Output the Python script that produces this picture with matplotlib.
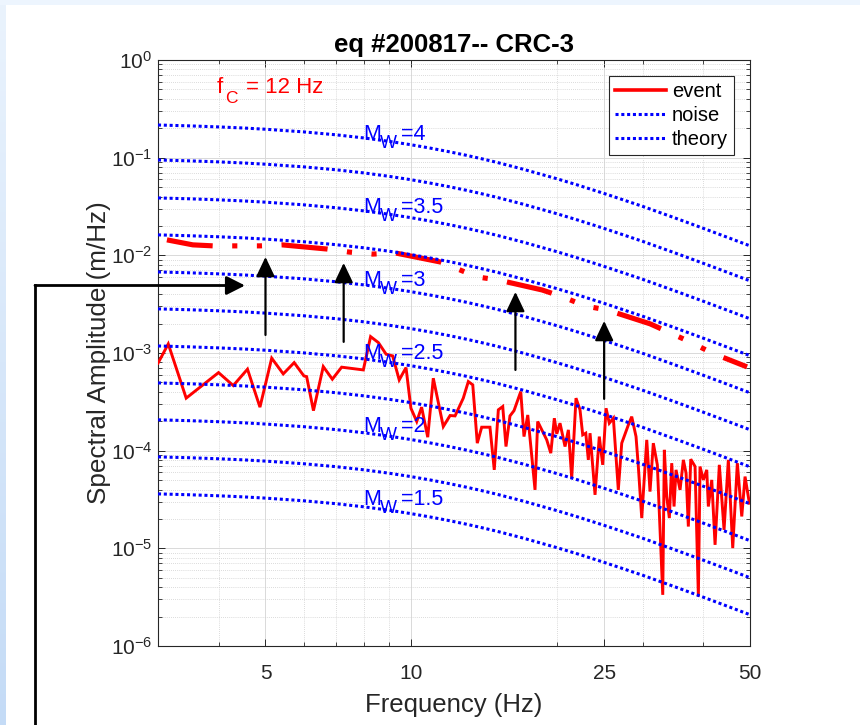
import numpy as np
import matplotlib
matplotlib.use("Agg")
import matplotlib.pyplot as plt
from matplotlib.lines import Line2D
from matplotlib.colors import LinearSegmentedColormap
from matplotlib.patches import FancyArrowPatch
from matplotlib.ticker import FixedLocator, NullFormatter, FixedFormatter, LogFormatterSciNotation

plt.rcParams['font.family'] = ['Liberation Sans', 'DejaVu Sans']
plt.rcParams['mathtext.fontset'] = 'custom'
plt.rcParams['mathtext.rm'] = 'Liberation Sans'
plt.rcParams['mathtext.it'] = 'Liberation Sans'
plt.rcParams['mathtext.sf'] = 'Liberation Sans'
plt.rcParams['mathtext.bf'] = 'Liberation Sans:bold'
plt.rcParams['mathtext.default'] = 'regular'
plt.rcParams['axes.unicode_minus'] = False

# ---------------- data ----------------
noise_freq = [3.0, 3.15, 3.43, 4.0, 4.29, 4.59, 4.87, 5.15, 5.44, 5.73, 6.0, 6.08, 6.28, 6.58, 6.87, 7.18,
              7.96, 8.24, 8.55, 8.87, 9.15, 9.44, 9.75, 9.98, 10.26, 10.5, 10.81, 11.1, 11.64, 12.02, 12.31,
              12.8, 13.11, 13.39, 13.68, 13.97, 14.53, 14.83, 15.12, 15.44, 15.68, 15.98, 16.29, 16.82, 17.08,
              17.39, 18.0, 18.23, 19.03, 19.40, 19.73, 19.96, 20.27, 20.76, 21.09, 21.43, 21.87, 22.29, 22.58,
              22.91, 23.19, 23.38, 23.94, 24.43, 24.83, 25.23, 25.62, 26.12, 26.74, 27.18, 28.05, 28.50, 29.09,
              29.41, 29.89, 30.61, 31.09, 31.58, 32.19, 33.03, 33.28, 33.66, 34.08, 34.47, 34.85, 35.18, 35.86,
              36.43, 36.90, 37.30, 37.73, 38.51, 39.12, 39.43, 40.06, 40.71, 41.02, 41.69, 42.35, 43.22, 44.20,
              45.11, 46.06, 47.08, 48.08, 48.84, 49.85]
noise_amp = [7.86e-4, 1.239e-3, 3.45e-4, 6.30e-4, 4.64e-4, 6.83e-4, 2.79e-4, 8.85e-4, 6.11e-4, 7.97e-4,
             5.83e-4, 5.73e-4, 2.57e-4, 7.26e-4, 5.39e-4, 7.16e-4, 6.71e-4, 1.472e-3, 1.278e-3, 9.72e-4,
             9.34e-4, 5.30e-4, 7.09e-4, 2.72e-4, 1.99e-4, 2.79e-4, 1.374e-4, 5.52e-4, 1.765e-4, 2.29e-4,
             2.27e-4, 3.45e-4, 5.10e-4, 4.72e-4, 1.194e-4, 1.739e-4, 1.739e-4, 6.36e-5, 2.62e-4, 2.83e-4,
             1.102e-4, 2.27e-4, 2.57e-4, 4.03e-4, 1.394e-4, 2.32e-4, 3.97e-5, 1.99e-4, 1.29e-4, 9.43e-5,
             2.15e-4, 1.486e-4, 1.912e-4, 1.102e-4, 1.633e-4, 5.23e-5, 3.45e-4, 2.62e-4, 1.451e-4, 1.51e-4,
             8.05e-5, 1.51e-4, 3.53e-5, 1.394e-4, 7.16e-5, 2.72e-4, 1.912e-4, 2.15e-4, 3.97e-5, 1.194e-4,
             1.837e-4, 2.23e-4, 1.394e-4, 6.88e-5, 2.04e-5, 1.29e-4, 3.81e-5, 1.194e-4, 7.16e-5, 3.34e-6,
             1.019e-4, 3.39e-5, 2.04e-5, 7.45e-5, 2.68e-5, 6.36e-5, 3.97e-5, 8.05e-5, 5.88e-5, 1.671e-5,
             8.18e-5, 6.88e-5, 3.21e-6, 6.88e-5, 5.02e-5, 6.36e-5, 2.68e-5, 5.02e-5, 1.086e-5, 7.16e-5,
             1.546e-5, 8.05e-5, 1.005e-5, 7.45e-5, 2.12e-5, 5.43e-5, 2.90e-5]

event_freq = [3.13, 3.54, 3.9, 4.33, 4.87, 5.41, 6.7, 7.44, 8.33, 9.25, 11.46, 12.31, 13.66, 15.1, 18.61,
              20.56, 22.83, 25.34, 31.09, 34.19, 37.96, 41.74, 49.3]
event_amp = [0.0144, 0.0128, 0.0125, 0.0125, 0.0125, 0.0128, 0.0116, 0.0108, 0.0103, 0.0106, 0.00856, 0.00743,
             0.00601, 0.0056, 0.00442, 0.00375, 0.00303, 0.00276, 0.00199, 0.00161, 0.00127, 0.001, 0.000721]

theory_mw = [4.0, 3.75, 3.5, 3.25, 3.0, 2.75, 2.5, 2.25, 2.0, 1.75, 1.5]
theory_plateau = [0.216, 0.0947, 0.0387, 0.0162, 0.00676, 0.00283, 0.00118, 0.000494, 0.000207, 8.64e-05, 3.61e-05]
theory_freq = [3, 3.5, 4, 4.5, 5, 6, 7, 8, 9, 10, 11, 12, 13, 14, 15, 17, 20, 22, 25, 28, 30, 35, 40, 45, 50]
theory_shape = [1.0, 0.979, 0.956, 0.932, 0.905, 0.85, 0.793, 0.736, 0.68, 0.627, 0.577, 0.531, 0.489, 0.450,
                0.415, 0.353, 0.281, 0.2436, 0.199, 0.1649, 0.147, 0.1118, 0.0877, 0.0705, 0.0579]

mw_labels = ['4', '3.5', '3', '2.5', '2', '1.5']
corner_freq_label = '12 Hz'

arrow_freq = [5.0, 7.25, 16.4, 25.0]
arrow_from = [0.00153, 0.0013, 0.000671, 0.000339]
arrow_to = [0.00963, 0.00836, 0.00422, 0.00213]

x_ticks = [5, 10, 25, 50]
x_minor = [3, 4, 6, 7, 8, 9, 20, 30, 40]
y_ticks = [1e-6, 1e-5, 1e-4, 1e-3, 1e-2, 1e-1, 1e0]

# ---------------- figure ----------------
W, H = 860, 725
fig = plt.figure(figsize=(W / 100, H / 100), dpi=100)
fig.patch.set_facecolor('white')

# decorative light-blue window edges
gax = fig.add_axes([0, 0, 6 / W, 1])
grad = np.linspace(0, 1, 256).reshape(-1, 1)
cm = LinearSegmentedColormap.from_list('edge', ['#eaf3fd', '#c4dbf6'])
gax.imshow(grad, aspect='auto', cmap=cm, extent=[0, 1, 0, 1], origin='upper')
gax.set_axis_off()
tax = fig.add_axes([0, 1 - 5 / H, 1, 5 / H])
tax.set_facecolor('#edf5fe')
tax.set_xticks([]); tax.set_yticks([])
for s in tax.spines.values():
    s.set_visible(False)

ax = fig.add_axes([158 / W, 1 - 646 / H, 592 / W, 586 / H])

event_ls = (0, (9, 3.8, 1.0, 3.8, 1.0, 3.8))
ax.loglog(event_freq, event_amp, color='red', lw=3.7, ls=event_ls, dash_capstyle='butt', zorder=3)
ax.loglog(noise_freq, noise_amp, color='red', lw=2.1, zorder=3, solid_joinstyle='miter')

dot_ls = (0, (1, 0.9))
for plateau in theory_plateau:
    vals = [plateau * s for s in theory_shape]
    ax.loglog(theory_freq, vals, color='blue', lw=2.2, ls=dot_ls, dash_capstyle='butt', zorder=4)

ax.set_xlim(3, 50)
ax.set_ylim(1e-6, 1)

ax.xaxis.set_major_locator(FixedLocator(x_ticks))
ax.xaxis.set_major_formatter(FixedFormatter([str(t) for t in x_ticks]))
ax.xaxis.set_minor_locator(FixedLocator(x_minor))
ax.xaxis.set_minor_formatter(NullFormatter())
y_minor = [m * t for t in y_ticks[:-1] for m in range(2, 10)]
ax.yaxis.set_major_locator(FixedLocator(y_ticks))
ax.yaxis.set_major_formatter(LogFormatterSciNotation())
ax.yaxis.set_minor_locator(FixedLocator(y_minor))
ax.yaxis.set_minor_formatter(NullFormatter())

ax.grid(True, which='major', color='#d9d9d9', lw=0.7, ls='-', zorder=0)
ax.grid(True, which='minor', color='#cfcfcf', lw=0.6, ls=(0, (1, 1.5)), zorder=0)
ax.set_axisbelow(True)

tc = '#262626'
ax.tick_params(which='both', direction='in', top=True, right=True, colors=tc, labelcolor=tc)
ax.tick_params(which='major', length=5, width=0.7, labelsize=15)
ax.tick_params(which='minor', length=3, width=0.6)
ax.tick_params(axis='x', which='major', pad=13)
ax.tick_params(axis='y', which='major', pad=4)
for s in ax.spines.values():
    s.set_color(tc)
    s.set_linewidth(0.8)

ax.set_title('eq #200817-- CRC-3', fontsize=18.5, fontweight='bold', color='black', pad=6)
ax.set_xlabel('Frequency (Hz)', fontsize=18.5, color=tc, labelpad=7)
ax.set_ylabel('Spectral Amplitude (m/Hz)', fontsize=18.8, color=tc, labelpad=0)

# corner frequency text (manual subscript)
fc_pos = (3.97, 0.46)
ax.annotate('f', fc_pos, xytext=(0, 0), textcoords='offset points', color='red', fontsize=16, va='baseline')
ax.annotate('C', fc_pos, xytext=(5.8, -7.0), textcoords='offset points', color='red', fontsize=12.5, va='baseline')
ax.annotate('= ' + corner_freq_label, fc_pos, xytext=(20.9, 0), textcoords='offset points', color='red',
            fontsize=16, va='baseline')

# Mw labels (manual subscript)
mw_label_y = [0.152, 0.0272, 0.00486, 8.7e-4, 1.557e-4, 2.79e-5]
for lab, yv in zip(mw_labels, mw_label_y):
    p = (7.94, yv)
    ax.annotate('M', p, xytext=(0, 0), textcoords='offset points', color='blue', fontsize=15.5,
                va='baseline', zorder=5)
    ax.annotate('W', p, xytext=(12.0, -5.8), textcoords='offset points', color='blue', fontsize=13,
                va='baseline', zorder=5)
    ax.annotate('=' + lab, p, xytext=(27.6, 0), textcoords='offset points', color='blue', fontsize=15.5,
                va='baseline', zorder=5)

# arrows
for f, a0, a1 in zip(arrow_freq, arrow_from, arrow_to):
    ax.annotate('', xy=(f, a1), xytext=(f, a0),
                arrowprops=dict(arrowstyle='-|>,head_length=0.8,head_width=0.38', color='black', lw=1.6,
                                shrinkA=0, shrinkB=0, mutation_scale=15), zorder=6)

# legend
handles = [Line2D([], [], color='red', lw=2.6),
           Line2D([], [], color='blue', lw=2.2, ls=dot_ls, dash_capstyle='butt'),
           Line2D([], [], color='blue', lw=2.2, ls=dot_ls, dash_capstyle='butt')]
leg = ax.legend(handles, ['event', 'noise', 'theory'], loc='upper right', fontsize=14.5, frameon=True,
                fancybox=False, edgecolor=tc, framealpha=1, handlelength=2.5, handletextpad=0.3,
                borderpad=0.3, labelspacing=0.25, borderaxespad=0.8)
leg.get_frame().set_linewidth(0.8)
for t in leg.get_texts():
    t.set_color('black')

# outside bracket arrow
bx = 35 / W
by = 1 - 285.5 / H
fig.add_artist(Line2D([bx, bx], [-0.01, by], transform=fig.transFigure, color='black', lw=2.0,
                      solid_capstyle='projecting'))
fig.add_artist(FancyArrowPatch((bx, by), (245 / W, by), transform=fig.transFigure,
                               arrowstyle='-|>,head_length=0.75,head_width=0.38',
                               mutation_scale=15, color='black', lw=2.0, shrinkA=0, shrinkB=0))

fig.savefig('out.png', dpi=100)
